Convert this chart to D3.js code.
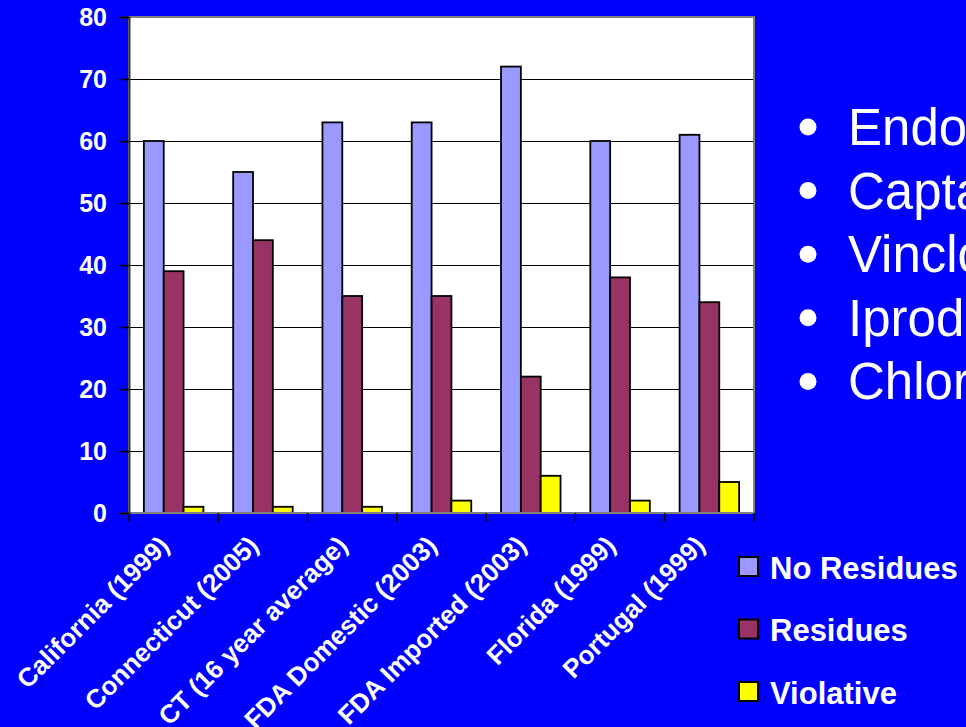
<!DOCTYPE html>
<html>
<head>
<meta charset="utf-8">
<script src="https://cdn.jsdelivr.net/npm/d3@7"></script>
<style>
  html, body { margin: 0; padding: 0; background: #0000FF; overflow: hidden; }
  svg { display: block; }
  text { font-family: Arial, "Liberation Sans", sans-serif; fill: #ffffff; }
</style>
</head>
<body>
<svg id="chart" width="966" height="727"></svg>
<script>
// Pesticide residue sampling results (% of samples)
const categories = [
  "California (1999)",
  "Connecticut (2005)",
  "CT (16 year average)",
  "FDA Domestic (2003)",
  "FDA Imported (2003)",
  "Florida (1999)",
  "Portugal (1999)"
];
const seriesNames = ["No Residues", "Residues", "Violative"];
const noResidues = [60, 55, 63, 63, 72, 60, 61];
const residues   = [39, 44, 35, 35, 22, 38, 34];
const violative  = [1, 1, 1, 2, 6, 2, 5];
const seriesColors = ["#9999FF", "#993366", "#FFFF00"];
const yTicks = [0, 10, 20, 30, 40, 50, 60, 70, 80];
const pesticides = ["Endosulfan", "Captan", "Vinclozolin", "Iprodione", "Chlorothalonil"];

const seriesValues = [noResidues, residues, violative];

const svg = d3.select("#chart");
const W = 966, H = 727;
svg.append("rect").attr("width", W).attr("height", H).attr("fill", "#0000FF");

const plot = { left: 129, top: 17, right: 754, bottom: 513 };

const x0 = d3.scaleBand()
  .domain(categories)
  .range([plot.left, plot.right])
  .paddingInner(0).paddingOuter(0);

const x1 = d3.scaleBand()
  .domain(seriesNames)
  .range([0, x0.bandwidth()])
  .paddingInner(0).paddingOuter(0.75);

const y = d3.scaleLinear().domain([0, 80]).range([plot.bottom, plot.top]);

// Plot area background
svg.append("rect")
  .attr("x", plot.left).attr("y", plot.top)
  .attr("width", plot.right - plot.left).attr("height", plot.bottom - plot.top)
  .attr("fill", "#ffffff");

// Horizontal gridlines
svg.append("g")
  .selectAll("line")
  .data(yTicks.filter(d => d > 0 && d < 80))
  .join("line")
  .attr("x1", plot.left).attr("x2", plot.right)
  .attr("y1", d => Math.round(y(d)) + 0.5).attr("y2", d => Math.round(y(d)) + 0.5)
  .attr("stroke", "#000").attr("stroke-width", 1.2);

// Bars
const groups = svg.append("g")
  .selectAll("g")
  .data(categories)
  .join("g")
  .attr("transform", d => `translate(${x0(d)},0)`);

groups.selectAll("rect")
  .data((c, i) => seriesNames.map((s, k) => ({ s, k, v: seriesValues[k][i] })))
  .join("rect")
  .attr("x", d => x1(d.s))
  .attr("y", d => y(d.v))
  .attr("width", x1.bandwidth())
  .attr("height", d => y(0) - y(d.v))
  .attr("fill", d => seriesColors[d.k])
  .attr("stroke", "#000")
  .attr("stroke-width", 1.8);

// Plot border
svg.append("rect")
  .attr("x", plot.left).attr("y", plot.top)
  .attr("width", plot.right - plot.left).attr("height", plot.bottom - plot.top)
  .attr("fill", "none").attr("stroke", "#808080").attr("stroke-width", 2);

// Y axis
const yAxis = d3.axisLeft(y).tickValues(yTicks).tickSize(9).tickPadding(13);
const gy = svg.append("g")
  .attr("transform", `translate(${plot.left},0)`)
  .call(yAxis);
gy.select(".domain").attr("stroke", "#333").attr("stroke-width", 2);
gy.selectAll(".tick line").attr("stroke", "#000").attr("stroke-width", 1.5);
gy.selectAll(".tick text")
  .attr("fill", "#fff")
  .style("font-size", "25px").style("font-weight", "bold")
  .style("font-family", "Arial, 'Liberation Sans', sans-serif");

// X axis: ticks at category boundaries
const boundaries = categories.map(c => x0(c)).concat([plot.right]);
svg.append("g")
  .selectAll("line")
  .data(boundaries)
  .join("line")
  .attr("x1", d => d).attr("x2", d => d)
  .attr("y1", plot.bottom).attr("y2", plot.bottom + 9)
  .attr("stroke", "#000").attr("stroke-width", 1.5);

// Rotated category labels
svg.append("g")
  .selectAll("text")
  .data(categories)
  .join("text")
  .attr("transform", d => `translate(${x0(d) + x0.bandwidth() / 2 - 3},${plot.bottom + 34}) rotate(-45)`)
  .attr("text-anchor", "end")
  .style("font-size", "26px").style("font-weight", "bold")
  .text(d => d);

// Legend
const legend = svg.append("g")
  .selectAll("g")
  .data(seriesNames)
  .join("g")
  .attr("transform", (d, i) => `translate(738,${556 + i * 62.5})`);
legend.append("rect")
  .attr("x", 1).attr("y", 1)
  .attr("width", 19).attr("height", 19)
  .attr("fill", (d, i) => seriesColors[i])
  .attr("stroke", "#000").attr("stroke-width", 2);
legend.append("text")
  .attr("x", 32).attr("y", 22.7)
  .style("font-size", "31px").style("font-weight", "bold")
  .text(d => d);

// Bullet list of pesticides
const bullets = svg.append("g")
  .selectAll("g")
  .data(pesticides)
  .join("g")
  .attr("transform", (d, i) => `translate(0,${145 + i * 63.6})`);
bullets.append("circle")
  .attr("cx", 808).attr("cy", -18).attr("r", 8.5)
  .attr("fill", "#fff");
bullets.append("text")
  .attr("x", 848).attr("y", 0)
  .style("font-size", "51px")
  .text(d => d);
</script>
</body>
</html>
